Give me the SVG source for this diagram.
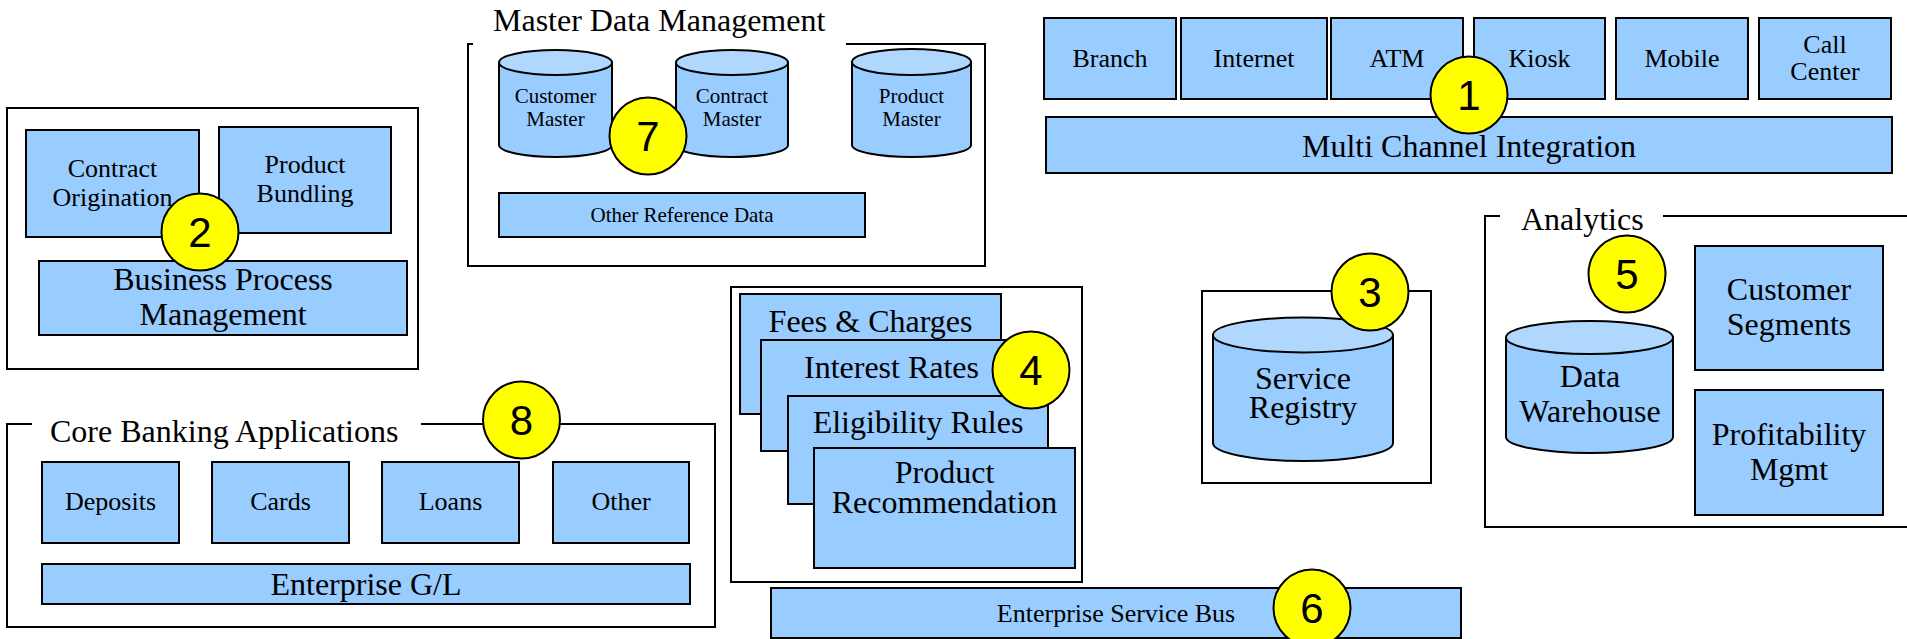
<svg xmlns="http://www.w3.org/2000/svg" width="1907" height="639" viewBox="0 0 1907 639">
<style>
.c{fill:none;stroke:#000;stroke-width:2}
.b{fill:#99CCFF;stroke:#000;stroke-width:2}
.top{fill:#B0D8FF;stroke:#000;stroke-width:2}
.bg{fill:#fff;stroke:none}
.t{font-family:"Liberation Serif","Times New Roman",serif;fill:#000;text-anchor:middle}
.tl{font-family:"Liberation Serif","Times New Roman",serif;fill:#000}
.L{font-size:32px}.M{font-size:26px}.S{font-size:21px}
.n circle{fill:#FFFF00;stroke:#000;stroke-width:2}
.n text{font-family:"Liberation Sans",Arial,sans-serif;font-size:42px;text-anchor:middle;fill:#000}
</style>
<rect width="1907" height="639" fill="#fff"/>

<g id="bpm">
<rect class="c" x="7" y="108" width="411" height="261"/>
<g id="contract-origination"><rect class="b" x="26" y="130" width="173" height="107"/>
<text class="t M" x="112.5" y="177">Contract</text><text class="t M" x="112.5" y="206">Origination</text></g>
<g id="product-bundling"><rect class="b" x="219" y="127" width="172" height="106"/>
<text class="t M" x="305" y="173">Product</text><text class="t M" x="305" y="202">Bundling</text></g>
<g id="bpm-bar"><rect class="b" x="39" y="261" width="368" height="74"/>
<text class="t L" x="223" y="290">Business Process</text><text class="t L" x="223" y="325">Management</text></g>
</g>

<g id="mdm">
<path class="c" d="M473,44 H468 V266 H985 V44 H846"/>
<text class="tl L" x="493" y="31">Master Data Management</text>
<g id="customer-master">
<path class="b" d="M499,62.5 V145 A56.5,12 0 0 0 612,145 V62.5 Z"/>
<ellipse class="top" cx="555.5" cy="62.5" rx="56.5" ry="12.5"/>
<text class="t S" x="555.5" y="103">Customer</text><text class="t S" x="555.5" y="126">Master</text></g>
<g id="contract-master">
<path class="b" d="M676,62.5 V145 A56,12 0 0 0 788,145 V62.5 Z"/>
<ellipse class="top" cx="732" cy="62.5" rx="56" ry="12.5"/>
<text class="t S" x="732" y="103">Contract</text><text class="t S" x="732" y="126">Master</text></g>
<g id="product-master">
<path class="b" d="M852,62 V145 A59.5,12 0 0 0 971,145 V62 Z"/>
<ellipse class="top" cx="911.5" cy="62" rx="59.5" ry="13"/>
<text class="t S" x="911.5" y="103">Product</text><text class="t S" x="911.5" y="126">Master</text></g>
<g id="other-reference-data"><rect class="b" x="499" y="193" width="366" height="44"/>
<text class="t S" x="682" y="222">Other Reference Data</text></g>
</g>

<g id="channels">
<g id="branch"><rect class="b" x="1044" y="18" width="132" height="81"/><text class="t M" x="1110" y="67">Branch</text></g>
<g id="internet"><rect class="b" x="1181" y="18" width="146" height="81"/><text class="t M" x="1254" y="67">Internet</text></g>
<g id="atm"><rect class="b" x="1331" y="18" width="132" height="81"/><text class="t M" x="1397" y="67">ATM</text></g>
<g id="kiosk"><rect class="b" x="1474" y="18" width="131" height="81"/><text class="t M" x="1539.5" y="67">Kiosk</text></g>
<g id="mobile"><rect class="b" x="1616" y="18" width="132" height="81"/><text class="t M" x="1682" y="67">Mobile</text></g>
<g id="call-center"><rect class="b" x="1759" y="18" width="132" height="81"/><text class="t M" x="1825" y="53">Call</text><text class="t M" x="1825" y="80">Center</text></g>
<g id="multi-channel"><rect class="b" x="1046" y="117" width="846" height="56"/><text class="t L" x="1469" y="157">Multi Channel Integration</text></g>
</g>

<g id="core-banking">
<path class="c" d="M32,424 H7 V627 H715 V424 H421"/>
<text class="tl L" x="50" y="442">Core Banking Applications</text>
<g id="deposits"><rect class="b" x="42" y="462" width="137" height="81"/><text class="t M" x="110.5" y="510">Deposits</text></g>
<g id="cards"><rect class="b" x="212" y="462" width="137" height="81"/><text class="t M" x="280.5" y="510">Cards</text></g>
<g id="loans"><rect class="b" x="382" y="462" width="137" height="81"/><text class="t M" x="450.5" y="510">Loans</text></g>
<g id="other"><rect class="b" x="553" y="462" width="136" height="81"/><text class="t M" x="621" y="510">Other</text></g>
<g id="enterprise-gl"><rect class="b" x="42" y="564" width="648" height="40"/><text class="t L" x="366" y="595">Enterprise G/L</text></g>
</g>

<g id="product-catalog">
<rect class="c" x="731" y="287" width="351" height="295"/>
<g id="fees"><rect class="b" x="740" y="294" width="261" height="120"/><text class="t L" x="870.5" y="332">Fees &amp; Charges</text></g>
<g id="interest"><rect class="b" x="761" y="340" width="261" height="111"/><text class="t L" x="891.5" y="378">Interest Rates</text></g>
<g id="eligibility"><rect class="b" x="788" y="396" width="260" height="108"/><text class="t L" x="918" y="433">Eligibility Rules</text></g>
<g id="recommendation"><rect class="b" x="814" y="448" width="261" height="120"/><text class="t L" x="944.5" y="483">Product</text><text class="t L" x="944.5" y="513">Recommendation</text></g>
</g>

<g id="service-registry">
<rect class="c" x="1202" y="291" width="229" height="192"/>
<path class="b" d="M1213,335 V443 A90,18 0 0 0 1393,443 V335 Z"/>
<ellipse class="top" cx="1303" cy="335" rx="90" ry="17.5"/>
<text class="t L" x="1303" y="389">Service</text><text class="t L" x="1303" y="418">Registry</text>
</g>

<g id="analytics">
<path class="c" d="M1500,216 H1485 V527 H1912 V216 H1663"/>
<text class="tl L" x="1521" y="230">Analytics</text>
<g id="data-warehouse">
<path class="b" d="M1506,337.5 V437 A83.5,16 0 0 0 1673,437 V337.5 Z"/>
<ellipse class="top" cx="1589.5" cy="337.5" rx="83.5" ry="16.5"/>
<text class="t L" x="1590" y="387">Data</text><text class="t L" x="1590" y="422">Warehouse</text></g>
<g id="customer-segments"><rect class="b" x="1695" y="246" width="188" height="124"/><text class="t L" x="1789" y="300">Customer</text><text class="t L" x="1789" y="335">Segments</text></g>
<g id="profitability"><rect class="b" x="1695" y="390" width="188" height="125"/><text class="t L" x="1789" y="445">Profitability</text><text class="t L" x="1789" y="480">Mgmt</text></g>
</g>

<g id="esb"><rect class="b" x="771" y="588" width="690" height="50"/><text class="t M" x="1116" y="622">Enterprise Service Bus</text></g>

<g id="connectors"></g>

<g id="markers" class="n">
<g id="m1"><circle cx="1469" cy="95" r="38.5"/><text x="1469" y="110">1</text></g>
<g id="m2"><circle cx="200" cy="232" r="38.5"/><text x="200" y="247">2</text></g>
<g id="m3"><circle cx="1370" cy="292" r="38.5"/><text x="1370" y="307">3</text></g>
<g id="m4"><circle cx="1031" cy="370" r="38.5"/><text x="1031" y="385">4</text></g>
<g id="m5"><circle cx="1627" cy="274" r="38.5"/><text x="1627" y="289">5</text></g>
<g id="m6"><circle cx="1312" cy="608" r="38.5"/><text x="1312" y="623">6</text></g>
<g id="m7"><circle cx="648" cy="136" r="38.5"/><text x="648" y="151">7</text></g>
<g id="m8"><circle cx="521.5" cy="420" r="38.5"/><text x="521.5" y="435">8</text></g>
</g>
</svg>
